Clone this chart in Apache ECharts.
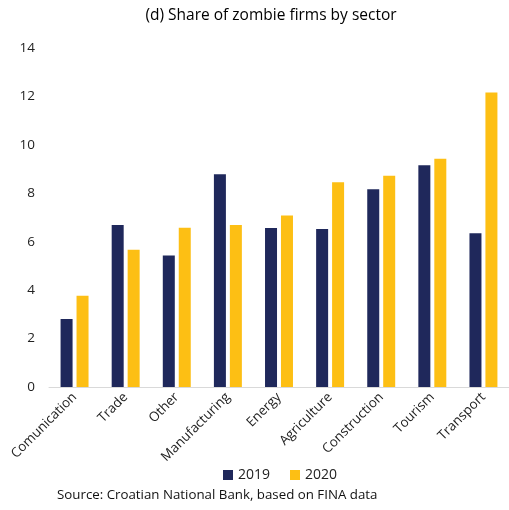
<!DOCTYPE html>
<html><head><meta charset="utf-8">
<script src="https://cdn.jsdelivr.net/npm/echarts@6/dist/echarts.min.js"></script>
<style>html,body{margin:0;padding:0;background:#fff}#c{width:509px;height:510px}</style>
</head><body><div id="c"></div>
<script>
const categories = ['Comunication','Trade','Other','Manufacturing','Energy','Agriculture','Construction','Tourism','Transport'];
const values2019 = [2.81, 6.69, 5.43, 8.79, 6.57, 6.52, 8.17, 9.16, 6.35];
const values2020 = [3.77, 5.67, 6.58, 6.69, 7.08, 8.46, 8.72, 9.43, 12.16];
const yTicks = [0, 2, 4, 6, 8, 10, 12, 14];
const FONT = "'Open Sans', 'Liberation Sans', sans-serif";
const chart = echarts.init(document.getElementById('c'));
chart.setOption({
  animation: false,
  textStyle: {fontFamily: FONT},
  title: {
    text: '(d) Share of zombie firms by sector',
    left: 266, textAlign: 'center', top: 3,
    textStyle: {fontSize: 15.5, fontWeight: 'normal', color: '#000', fontFamily: FONT}
  },
  legend: {
    data: ['2019', '2020'], top: 463, left: 218,
    itemWidth: 10, itemHeight: 10, itemGap: 20,
    icon: 'rect',
    textStyle: {fontSize: 14, color: '#222', fontFamily: FONT}
  },
  graphic: [{
    type: 'text', left: 57, top: 489,
    style: {text: 'Source: Croatian National Bank, based on FINA data', fontSize: 13.3, fill: '#111', fontFamily: FONT}
  }],
  grid: {left: 49, right: -8, top: 48, bottom: 123, containLabel: false},
  xAxis: {
    type: 'category', data: categories,
    axisLine: {lineStyle: {color: '#d9d9d9', width: 1}},
    axisTick: {show: false},
    axisLabel: {rotate: 45, fontSize: 13.3, color: '#222', margin: 8, interval: 0, fontFamily: FONT}
  },
  yAxis: {
    type: 'value', min: yTicks[0], max: yTicks[yTicks.length - 1], interval: 2,
    splitLine: {show: false}, axisLine: {show: false}, axisTick: {show: false},
    axisLabel: {fontSize: 13.5, color: '#222', margin: 14, fontFamily: FONT}
  },
  series: [
    {name: '2019', type: 'bar', data: values2019, barWidth: 12, barGap: '33%',
     itemStyle: {color: '#1f285b'}},
    {name: '2020', type: 'bar', data: values2020, barWidth: 12,
     itemStyle: {color: '#fdbf14'}}
  ]
});
</script></body></html>
